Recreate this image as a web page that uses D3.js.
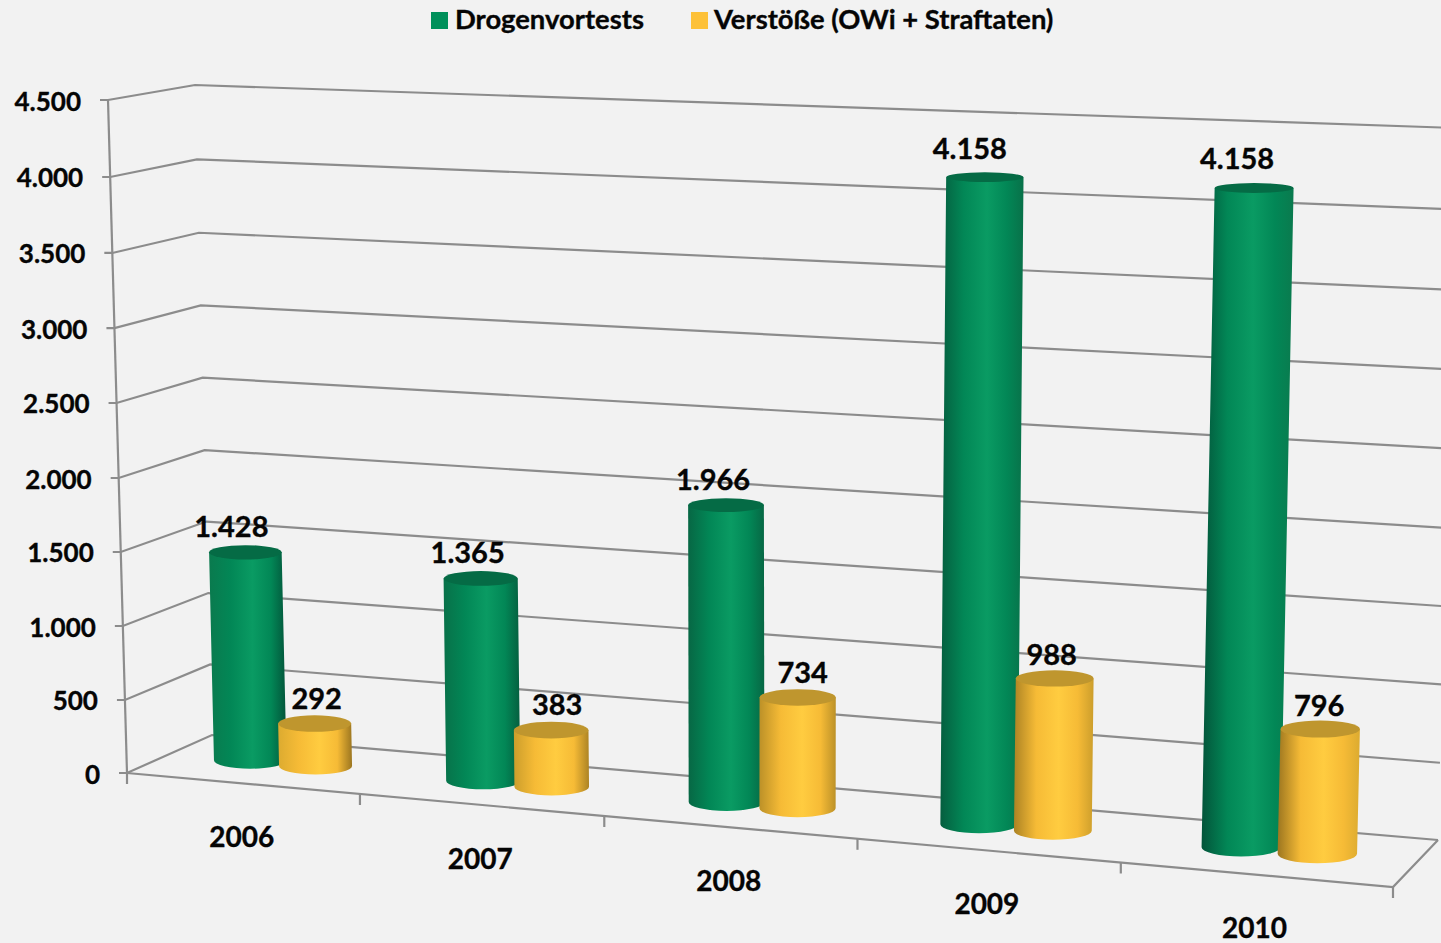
<!DOCTYPE html>
<html>
<head>
<meta charset="utf-8">
<script src="https://cdnjs.cloudflare.com/ajax/libs/d3/7.8.5/d3.min.js"></script>
<style>
html,body{margin:0;padding:0;background:#f2f2f2;overflow:hidden}
svg{display:block}
text{font-family:Lato,"Noto Sans",sans-serif;font-weight:700;fill:#050505;font-size:26px;stroke:#050505;stroke-width:.35px}
.cat{font-size:28px}
.lab{font-size:29px}
.leg{font-size:27.4px}
</style>
</head>
<body>
<svg id="c" width="1441" height="943"></svg>
<script>
const categories = ["2006","2007","2008","2009","2010"];
const drogenvortests = [1428,1365,1966,4158,4158];
const verstoesse = [292,383,734,988,796];
const valueTicks = [0,500,1000,1500,2000,2500,3000,3500,4000,4500];
const seriesNames = ["Drogenvortests","Verstöße (OWi + Straftaten)"];

const W = 1441, H = 943;
const svg = d3.select("#c").attr("viewBox",[0,0,W,H]);
const fmt = d3.formatLocale({decimal:",",thousands:".",grouping:[3],currency:["","€"]}).format(",d");

// Perspective box: corners of the chart's 3D frame at value 0 and at the axis maximum
const corner = {
  fl:[[127,773],[108,100]],
  fr:[[1393,887],[1414,150]],
  bl:[[212,735],[195,85]],
  br:[[1438,840],[1456,128]]
};
// Height on the frame is foreshortened: upper steps are slightly taller
const level = d3.scaleLinear().domain(valueTicks)
  .range([0,.1085,.2184,.3284,.4383,.5498,.661,.7727,.8856,1]);
// Position along the category axis: each band gets its own width
const along = d3.scaleLinear().domain([0,1,2,3,4,5]).range([0,.184,.377,.577,.785,1]);
const lerp = (a,b,t)=>[a[0]+(b[0]-a[0])*t, a[1]+(b[1]-a[1])*t];
function project(u,l,w){
  const t = along(u);
  const f = lerp(lerp(corner.fl[0],corner.fl[1],l), lerp(corner.fr[0],corner.fr[1],l), t);
  const b = lerp(lerp(corner.bl[0],corner.bl[1],l), lerp(corner.br[0],corner.br[1],l), t);
  return lerp(f,b,w);
}
const DEPTH = .52;
const radius = d3.scaleLinear().domain([0,5]).range([36,40]);
const squash = d3.scaleLinear().domain([0,4158]).range([.235,.125]);

const gridG = svg.append("g").attr("fill","none").attr("stroke","#8c8c8c").attr("stroke-width",2.2);
const line = d3.line();

valueTicks.forEach(v=>{
  const l = level(v);
  const a = project(0,l,0), b = project(0,l,1), c = project(5,l,1);
  gridG.append("path").attr("d",line([[a[0]-8,a[1]],a,b,c]));
});
gridG.append("path").attr("d",line([project(0,0,0),project(0,1,0)]));
gridG.append("path").attr("d",line([project(0,0,0),project(5,0,0),project(5,0,1)]));
d3.range(0,6).forEach(i=>{
  const p = project(i,0,0);
  gridG.append("path").attr("d",line([p,[p[0],p[1]+11]]));
});

svg.append("g").selectAll("text").data(valueTicks).join("text")
  .attr("text-anchor","end")
  .attr("x",v=>project(0,level(v),0)[0]-27)
  .attr("y",v=>project(0,level(v),0)[1]+10.5)
  .text(v=>fmt(v));

svg.append("g").selectAll("text").data(categories).join("text")
  .attr("class","cat")
  .attr("text-anchor","middle")
  .attr("x",(c,i)=>project(i+.48,0,0)[0]+3)
  .attr("y",(c,i)=>project(i+.48,0,0)[1]+64)
  .text(c=>c);

const palette = [
  {edge:"#03543a", soft:"#0a7a4e", mid:"#028756", light:"#0a9b63", top:"#056b45", off:.345, dx:-15, dy:-15,
   nudgeX:[1,2,2,0,-2], nudgeY:[0,0,0,-3,-4], values:drogenvortests},
  {edge:"#9c7620", soft:"#dcab30", mid:"#f6bb36", light:"#ffcc40", top:"#bf962e", off:.63, dx:2, dy:-15,
   nudgeX:[0,4,3,-5,-3], nudgeY:[0,0,1,2,2], values:verstoesse}
];
const defs = svg.append("defs");
const shade = (p,t)=>d3.interpolateRgb(p.soft,p.edge)(t);
const barG = svg.append("g");
const labels = [];
categories.forEach((c,i)=>{
  palette.forEach((p,s)=>{
    const v = p.values[i], u = i+p.off;
    const ct = project(u,level(v),DEPTH), cb = project(u,0,DEPTH);
    const rx = radius(u), ryT = rx*squash(v), ryB = rx*squash(0);
    const id = `g${i}${s}`;
    const k = i/4;
    const g = defs.append("linearGradient").attr("id",id).attr("x1",0).attr("x2",1).attr("y1",0).attr("y2",0);
    [[0,shade(p,k)],[.28,p.mid],[.56,p.light],[.8,p.mid],[1,shade(p,1-k)]].forEach(d=>
      g.append("stop").attr("offset",d[0]).attr("stop-color",d[1]));
    barG.append("path")
      .attr("fill",`url(#${id})`)
      .attr("d",`M${ct[0]-rx},${ct[1]}L${cb[0]-rx},${cb[1]}A${rx},${ryB} 0 0 0 ${cb[0]+rx},${cb[1]}L${ct[0]+rx},${ct[1]}Z`);
    barG.append("ellipse").attr("cx",ct[0]).attr("cy",ct[1]).attr("rx",rx).attr("ry",ryT).attr("fill",p.top);
    labels.push({x:ct[0]+p.dx+p.nudgeX[i],y:ct[1]+p.dy+p.nudgeY[i],t:fmt(v)});
  });
});
svg.append("g").selectAll("text").data(labels).join("text")
  .attr("class","lab")
  .attr("text-anchor","middle").attr("x",d=>d.x).attr("y",d=>d.y).text(d=>d.t);

const legend = svg.append("g");
[[431,455,"#00905a"],[691,714,"#fdc138"]].forEach((d,i)=>{
  legend.append("rect").attr("x",d[0]).attr("y",12).attr("width",17).attr("height",17).attr("fill",d[2]);
  legend.append("text").attr("class","leg").attr("x",d[1]).attr("y",29).text(seriesNames[i]);
});
</script>
</body>
</html>
